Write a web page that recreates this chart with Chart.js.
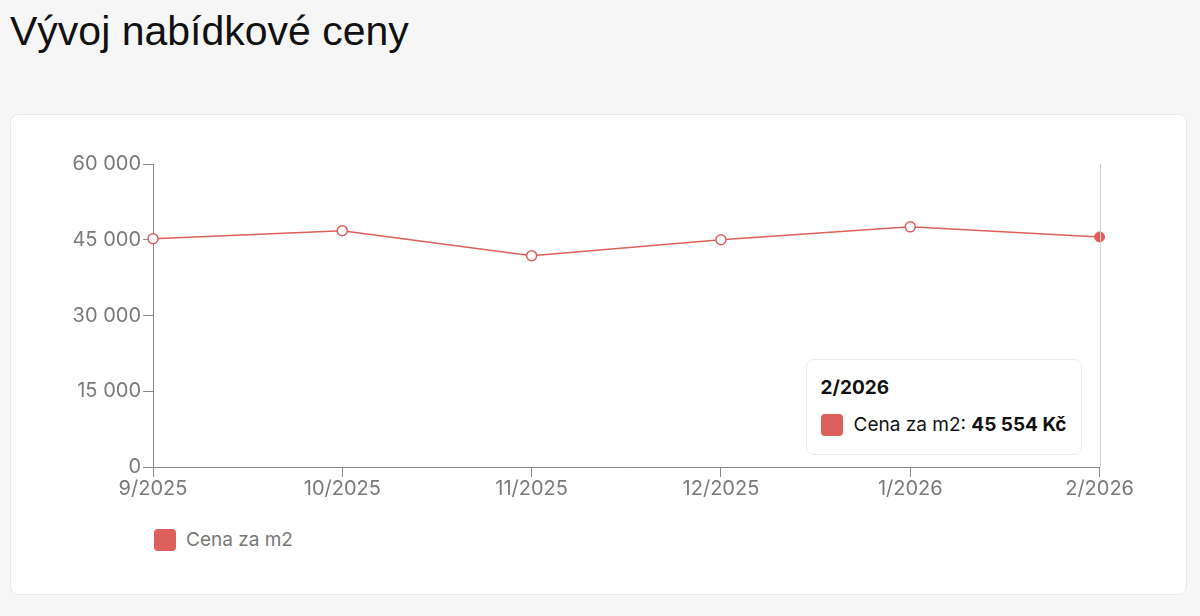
<!DOCTYPE html>
<html lang="cs">
<head>
<meta charset="utf-8">
<script src="https://cdn.jsdelivr.net/npm/chart.js@4"></script>
<style>
  body { margin: 0; background: #f6f6f6; font-family: "Inter", sans-serif; }
  h1 { position: absolute; left: 10px; top: 8px; margin: 0; font: 400 41px "Liberation Sans", Arial, sans-serif; color: #111; }
  .card { position: absolute; left: 10px; top: 114px; width: 1177px; height: 481px; background: #fff; border: 1px solid #e9e9e9; border-radius: 8px; box-sizing: border-box; }
  .wrap { position: absolute; left: 30px; top: 35px; width: 1093px; height: 351px; }
  .legend { position: absolute; left: 143px; top: 413px; display: flex; align-items: center; color: #777; font-size: 19px; }
  .legend span.box { width: 22px; height: 22px; border-radius: 4px; background: #dc605c; margin-right: 10px; }
  .tip { position: absolute; background: #fff; border: 1px solid #ebebeb; border-radius: 8px; padding: 16px 14px 18px 14px; color: #111; font-size: 19px; pointer-events: none; white-space: nowrap; }
  .tip .t { font-weight: 700; margin-bottom: 14px; }
  .tip .r { display: flex; align-items: center; }
  .tip .sw { width: 22px; height: 22px; border-radius: 4px; background: #dc605c; margin-right: 11px; }
</style>
</head>
<body>
<h1>Vývoj nabídkové ceny</h1>
<div class="card">
  <div class="wrap"><canvas id="c"></canvas></div>
  <div class="legend"><span class="box"></span>Cena za m2</div>
</div>
<script>
const months = ['9/2025', '10/2025', '11/2025', '12/2025', '1/2026', '2/2026'];
const pricePerM2 = [45200, 46800, 41850, 45000, 47550, 45554];
const yTicks = [0, 15000, 30000, 45000, 60000];
const seriesLabel = 'Cena za m2';
const red = '#dc605c';

const fmt = v => String(Math.round(v)).replace(/\B(?=(\d{3})+(?!\d))/g, ' ');

// vertical line at the hovered point
const hoverLine = {
  id: 'hoverLine',
  afterDatasetsDraw(chart) {
    const act = chart.getActiveElements();
    if (!act.length) return;
    const x = act[0].element.x;
    const { top, bottom } = chart.chartArea;
    const ctx = chart.ctx;
    ctx.save();
    ctx.strokeStyle = '#cfcfcf';
    ctx.lineWidth = 1;
    ctx.beginPath();
    ctx.moveTo(Math.round(x) + 0.5, top);
    ctx.lineTo(Math.round(x) + 0.5, bottom);
    ctx.stroke();
    ctx.restore();
  }
};

const tipEl = document.createElement('div');
tipEl.className = 'tip';
document.querySelector('.card').appendChild(tipEl);

function externalTip(context) {
  const { chart, tooltip } = context;
  if (tooltip.opacity === 0 || !tooltip.dataPoints || !tooltip.dataPoints.length) {
    tipEl.style.display = 'none';
    return;
  }
  const dp = tooltip.dataPoints[0];
  tipEl.innerHTML = '<div class="t">' + dp.label + '</div>' +
    '<div class="r"><span class="sw"></span>' + seriesLabel + ':&nbsp;<b>' + fmt(dp.raw) + ' Kč</b></div>';
  tipEl.style.display = 'block';
  const wrap = chart.canvas.parentNode;
  const w = tipEl.offsetWidth, h = tipEl.offsetHeight;
  tipEl.style.left = (wrap.offsetLeft + dp.element.x - 18 - w) + 'px';
  tipEl.style.top = (wrap.offsetTop + chart.chartArea.bottom - 12 - h) + 'px';
}

const chart = new Chart(document.getElementById('c'), {
  type: 'line',
  data: {
    labels: months,
    datasets: [{
      label: seriesLabel,
      data: pricePerM2,
      borderColor: red,
      borderWidth: 1.5,
      backgroundColor: '#fff',
      pointBackgroundColor: '#fff',
      pointBorderColor: red,
      pointBorderWidth: 1.5,
      pointRadius: 5,
      pointHoverRadius: 5,
      pointHoverBackgroundColor: red,
      pointHoverBorderColor: red,
      tension: 0
    }]
  },
  options: {
    responsive: true,
    maintainAspectRatio: false,
    animation: false,
    layout: { padding: { top: 10, right: 0 } },
    interaction: { mode: 'index', intersect: false },
    plugins: {
      legend: { display: false },
      tooltip: { enabled: false, external: externalTip }
    },
    scales: {
      x: {
        offset: false,
        grid: { display: true, drawOnChartArea: false, drawTicks: true, tickLength: 10, color: '#8a8a8a' },
        border: { display: true, color: '#8a8a8a' },
        ticks: { color: '#7a7a7a', font: { family: 'Inter', size: 20 }, padding: 0, maxRotation: 0 }
      },
      y: {
        min: 0,
        max: 60000,
        afterBuildTicks(scale) { scale.ticks = yTicks.map(v => ({ value: v })); },
        afterFit(scale) { scale.width = 112; },
        grid: { display: true, drawOnChartArea: false, drawTicks: true, tickLength: 10, color: '#8a8a8a' },
        border: { display: true, color: '#8a8a8a' },
        ticks: { color: '#7a7a7a', font: { family: 'Inter', size: 20 }, padding: 2, callback: v => fmt(v) }
      }
    }
  },
  plugins: [hoverLine]
});

const last = pricePerM2.length - 1;
chart.setActiveElements([{ datasetIndex: 0, index: last }]);
const el = chart.getDatasetMeta(0).data[last];
chart.tooltip.setActiveElements([{ datasetIndex: 0, index: last }], { x: el.x, y: el.y });
chart.update();
</script>
</body>
</html>
